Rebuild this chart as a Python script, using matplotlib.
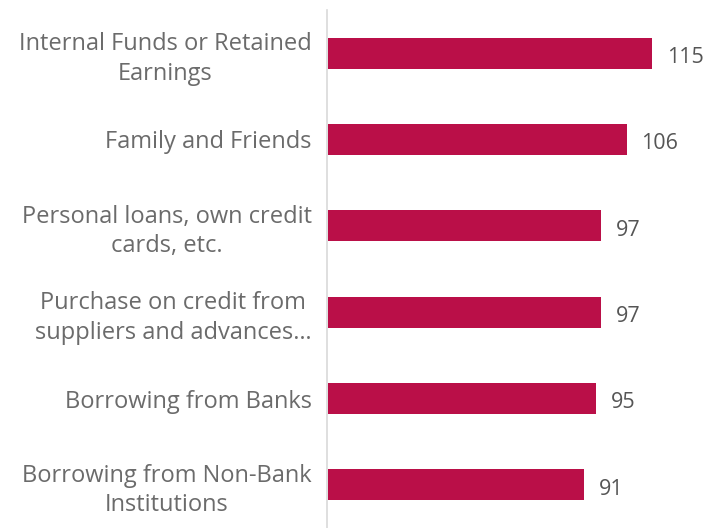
import matplotlib.pyplot as plt

# --- Data ---
sources = [
    "Internal Funds or Retained\nEarnings",
    "Family and Friends",
    "Personal loans, own credit\ncards, etc.",
    "Purchase on credit from\nsuppliers and advances…",
    "Borrowing from Banks",
    "Borrowing from Non-Bank\nInstitutions",
]
counts = [115, 106, 97, 97, 95, 91]

BAR_COLOR = "#BA0F48"
LABEL_GRAY = "#6b6b6b"
VALUE_GRAY = "#555555"

plt.rcParams['font.family'] = ['Open Sans', 'DejaVu Sans']

fig = plt.figure(figsize=(7.05, 5.28), dpi=100)
ax = fig.add_axes([327 / 705, 0.0, 373 / 705, 518 / 528])

y_pos = list(range(len(sources)))
ax.barh(y_pos, counts, height=0.36, color=BAR_COLOR, left=0)

ax.set_ylim(len(sources) - 0.5, -0.5)
ax.set_xlim(-0.4, 132)

# value labels to the right of each bar
for y, v in zip(y_pos, counts):
    ax.text(v + 5.2, y + 0.05, str(v), va="center", ha="left",
            fontsize=15.5, color=VALUE_GRAY)

ax.set_yticks(y_pos)
ax.set_yticklabels(sources, fontsize=17, color=LABEL_GRAY,
                   multialignment="center", linespacing=1.3)
ax.tick_params(axis="y", length=0, pad=11)
ax.set_xticks([])

for side in ["top", "right", "bottom"]:
    ax.spines[side].set_visible(False)
ax.spines["left"].set_color("#d9d9d9")
ax.spines["left"].set_linewidth(1.2)

fig.savefig("out.png", dpi=100)
